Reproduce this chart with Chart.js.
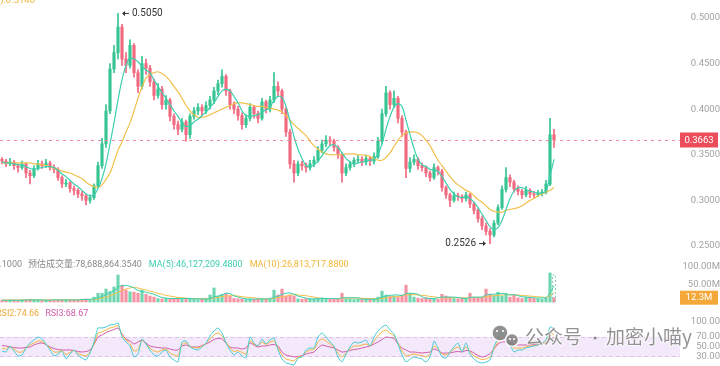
<!DOCTYPE html>
<html><head><meta charset="utf-8">
<script src="https://cdn.jsdelivr.net/npm/chart.js@4.4.1/dist/chart.umd.min.js"></script>
<style>
html,body{margin:0;padding:0;background:#fff;width:720px;height:366px;overflow:hidden;}
canvas{position:absolute;left:0;}
</style></head><body>
<canvas id="cPrice" width="720" height="258" style="top:0px"></canvas>
<canvas id="cVol" width="720" height="48" style="top:258px"></canvas>
<canvas id="cRsi" width="720" height="60" style="top:306px"></canvas>
<script>
// ---------- DATA ----------
const firstOpen = 0.345;
const closes = [
0.343,0.340,0.342,0.338,0.336,0.340,0.330,0.327,0.335,0.340,
0.338,0.341,0.336,0.334,0.325,0.318,0.319,0.313,0.311,0.307,
0.305,0.300,0.303,0.316,0.338,0.362,0.398,0.444,0.462,0.490,
0.455,0.448,0.470,0.440,0.425,0.450,0.445,0.430,0.415,0.422,
0.405,0.410,0.392,0.383,0.378,0.386,0.372,0.392,0.398,0.402,
0.398,0.404,0.410,0.420,0.428,0.436,0.420,0.405,0.400,0.393,
0.383,0.390,0.402,0.395,0.390,0.408,0.400,0.410,0.425,0.420,
0.400,0.375,0.340,0.330,0.340,0.338,0.336,0.340,0.344,0.355,
0.362,0.366,0.365,0.358,0.350,0.330,0.336,0.340,0.344,0.345,
0.342,0.346,0.343,0.348,0.365,0.395,0.418,0.405,0.412,0.390,
0.375,0.335,0.342,0.345,0.338,0.336,0.330,0.325,0.336,0.332,
0.314,0.306,0.300,0.305,0.304,0.302,0.306,0.296,0.289,0.280,
0.272,0.266,0.262,0.275,0.292,0.312,0.325,0.320,0.313,0.310,
0.306,0.311,0.307,0.306,0.308,0.309,0.318,0.372,0.3663];
const highs = [
.347,.345,.346,.344,.340,.343,.341,.333,.338,.344,
.343,.345,.343,.339,.336,.327,.323,.321,.316,.313,
.310,.307,.306,.318,.342,.368,.405,.450,.470,.505,
.493,.462,.476,.472,.443,.458,.455,.448,.433,.428,
.425,.415,.412,.395,.387,.390,.388,.395,.402,.406,
.405,.408,.414,.424,.432,.443,.438,.422,.408,.403,
.396,.394,.406,.404,.398,.412,.410,.414,.440,.430,
.422,.402,.378,.344,.343,.343,.341,.344,.348,.359,
.366,.371,.370,.367,.360,.352,.340,.343,.347,.349,
.348,.350,.348,.352,.369,.400,.425,.420,.420,.414,
.393,.377,.347,.350,.347,.341,.338,.332,.340,.338,
.334,.316,.308,.309,.308,.306,.309,.308,.298,.291,
.283,.275,.269,.278,.295,.316,.336,.328,.322,.316,
.312,.315,.313,.310,.311,.312,.322,.390,.378];
const lows = [
.340,.337,.338,.334,.331,.334,.325,.318,.325,.333,
.335,.336,.333,.330,.322,.314,.315,.309,.306,.303,
.300,.295,.297,.301,.314,.335,.358,.395,.440,.455,
.448,.440,.445,.435,.418,.422,.438,.425,.410,.412,
.400,.400,.387,.378,.372,.375,.365,.368,.389,.394,
.393,.395,.400,.406,.416,.424,.415,.400,.395,.388,
.378,.380,.387,.390,.385,.388,.396,.397,.407,.414,
.395,.370,.335,.320,.327,.333,.331,.333,.337,.342,
.352,.359,.360,.354,.346,.320,.327,.333,.337,.341,
.338,.339,.338,.340,.346,.362,.392,.400,.402,.385,
.370,.325,.331,.339,.334,.332,.326,.321,.323,.328,
.310,.302,.293,.298,.300,.298,.299,.292,.285,.276,
.268,.262,.2526,.260,.273,.290,.309,.315,.309,.306,
.302,.304,.303,.303,.304,.305,.307,.316,.358];
const maFast = [
.342,.341,.341,.340,.339,.339,.337,.335,.334,.335,
.336,.337,.337,.336,.333,.329,.326,.322,.318,.315,
.311,.307,.305,.306,.313,.324,.340,.362,.385,.410,
.432,.448,.456,.455,.452,.447,.443,.440,.432,.425,
.418,.412,.405,.398,.392,.385,.381,.382,.386,.389,
.393,.397,.402,.407,.414,.420,.422,.420,.414,.407,
.398,.393,.392,.393,.394,.397,.399,.402,.410,.414,
.413,.403,.387,.370,.356,.346,.338,.337,.339,.343,
.349,.355,.360,.361,.358,.352,.346,.342,.340,.341,
.342,.343,.344,.345,.351,.362,.378,.392,.402,.406,
.403,.388,.372,.357,.345,.339,.337,.334,.333,.332,
.326,.319,.312,.307,.304,.303,.304,.302,.298,.292,
.285,.278,.271,.268,.270,.278,.290,.302,.310,.314,
.314,.312,.310,.309,.308,.308,.310,.327,.345];
const maSlow = [
.341,.341,.341,.341,.341,.341,.341,.341,.340,.340,
.339,.338,.337,.335,.334,.332,.331,.330,.328,.326,
.324,.320,.317,.315,.314,.317,.323,.330,.342,.355,
.364,.375,.385,.398,.412,.424,.434,.438,.440,.441,
.439,.436,.431,.425,.419,.412,.404,.398,.394,.391,
.391,.392,.394,.396,.398,.400,.402,.404,.406,.407,
.407,.406,.405,.404,.403,.403,.402,.401,.400,.399,
.397,.393,.388,.383,.379,.375,.371,.365,.360,.356,
.353,.351,.350,.350,.350,.350,.351,.351,.351,.350,
.350,.349,.348,.346,.344,.344,.347,.352,.359,.366,
.371,.374,.375,.375,.374,.371,.366,.360,.352,.344,
.338,.332,.326,.321,.317,.314,.311,.309,.305,.301,
.298,.294,.290,.288,.287,.287,.289,.290,.291,.292,
.294,.297,.300,.302,.305,.307,.309,.311,.314];
const volumes = [ // millions
5,4,6,5,4,7,6,8,5,6,
4,5,6,5,7,6,5,6,7,6,
8,9,7,14,25,25,37,29,43,77,
48,34,29,28,25,34,22,17,14,10,
9,11,8,10,12,9,11,8,9,7,
8,10,20,40,16,22,25,16,10,9,
8,7,9,8,10,9,8,11,34,20,
37,17,20,17,9,8,10,9,8,11,
12,10,9,8,8,25,9,8,7,8,
9,7,8,9,14,31,20,17,17,14,
20,48,25,14,11,10,12,9,10,8,
22,17,14,10,9,10,8,25,12,11,
14,37,22,17,28,17,25,14,20,12,
10,14,14,10,9,8,11,83,12.3];
const volMa5 = [
5,5,5,5,5,5,6,6,6,6,6,5,5,6,6,6,6,6,6,6,7,7,8,
9,12,16,21,28,32,42,47,47,45,40,33,30,28,25,22,
17,13,11,10,10,10,10,10,10,9,9,9,8,
10,15,17,20,25,24,
18,14,11,9,8,8,9,9,9,9,
14,16,22,25,26,22,
17,14,11,9,9,9,10,10,10,10,9,
12,12,12,12,12,8,8,8,8,
10,14,17,19,20,20,18,24,25,24,
22,15,11,10,10,12,14,14,14,14,13,11,10,
13,14,14,14,20,22,22,24,24,22,20,21,
18,15,14,13,12,11,12,12,27,46];
const volMa10 = [
6,6,6,6,6,6,6,6,6,6,6,6,6,6,6,6,6,6,6,6,6,7,7,
8,9,11,14,18,22,28,33,37,40,42,40,37,34,31,28,
25,22,19,17,15,13,12,11,10,10,10,10,9,
10,12,13,15,17,18,
18,17,15,14,13,12,10,9,9,9,
11,13,15,17,19,21,
20,19,18,16,14,12,10,10,10,10,10,
10,11,11,11,11,11,10,10,9,
9,10,12,13,15,16,18,20,21,21,
20,19,18,16,15,13,12,12,12,12,13,12,12,
12,13,13,13,15,17,18,19,20,21,21,21,
20,19,18,17,16,15,14,13,18,27];
const rsi1 = [
42,40,52,42,32,34,48,58,64,70,
66,56,44,32,36,42,26,36,44,34,
28,24,38,60,88,88,90,94,95,98,
70,60,52,30,36,66,56,44,34,32,
40,44,30,24,20,60,62,50,46,44,
50,58,72,82,88,78,58,44,34,40,
32,28,70,58,52,66,56,64,68,44,
26,18,16,14,28,30,44,48,48,70,
78,70,60,52,30,20,36,50,60,58,
60,64,52,70,82,90,94,84,76,56,
34,20,26,30,28,26,20,30,62,48,
30,28,40,50,58,40,58,36,26,20,
18,20,24,50,68,80,62,54,40,44,
44,48,50,52,54,58,64,90,88];
const rsi2 = [
48,46,51,46,40,40,48,54,58,62,
61,56,48,40,40,43,35,39,43,37,
34,32,40,56,78,80,84,88,90,93,
74,64,57,42,45,64,56,48,42,40,
44,46,38,34,32,55,58,52,49,48,
52,57,66,74,78,72,60,48,41,43,
39,36,62,56,52,60,55,60,62,48,
34,26,24,22,30,32,40,44,45,60,
66,62,56,50,38,30,38,46,52,52,
54,56,52,62,72,80,84,78,72,58,
42,32,34,36,34,33,30,36,52,46,
36,34,40,46,50,42,50,40,32,28,
25,26,30,46,60,70,62,56,48,48,
48,50,52,53,55,57,60,78,74.66];
const rsi3 = [
53,52,50,49,48,48,49,50,54,57,
58,55,50,47,45,44,44,44,43,41,
40,41,44,55,70,74,79,82,85,88,
76,66,62,56,60,64,58,52,50,49,
48,48,46,44,44,52,54,51,50,50,
53,56,60,65,67,66,58,50,48,48,
46,48,58,54,50,52,52,54,55,52,
40,34,32,30,31,33,36,38,40,48,
54,52,50,48,44,40,41,43,45,46,
48,50,52,56,60,65,70,69,67,56,
48,44,40,40,39,38,39,40,46,43,
38,38,38,40,41,40,43,42,38,33,
30,32,37,46,56,60,60,58,55,54,
54,54,54,55,56,57,58,65,68.67];
const priceTicks = [0.25,0.30,0.35,0.40,0.45,0.50];
const volTicks = [50,100];
const rsiTicks = [30,50,70,100];
const lastPrice = 0.3663;
const currentVol = 12.3;
const estVolume = 78.6888643540;
const maxMark = {index:29, value:0.5050};
const minMark = {index:122, value:0.2526};
const legendVol = {cut:'VOL:12,316,490.1000', est:'预估成交量:78,688,864.3540', ma5:'MA(5):46,127,209.4800', ma10:'MA(10):26,813,717.8800'};
const legendRsi = {r1:'RSI1:88.21', r2:'RSI2:74.66', r3:'RSI3:68.67'};

// ---------- BUILD ----------
const UP='#36c592', DOWN='#f2697f';
const UPV='rgba(54,197,146,0.72)', DOWNV='rgba(242,105,127,0.72)';
const opens = closes.map((c,i)=> i===0 ? firstOpen : closes[i-1]);
const isUp = closes.map((c,i)=> c >= opens[i]);
const cColor = isUp.map(u=> u?UP:DOWN);
const vColor = isUp.map(u=> u?UPV:DOWNV);
const pts = arr => arr.map((v,i)=>({x:i,y:v}));
const FAM = 'Roboto, "Noto Sans CJK SC", sans-serif';
Chart.defaults.font.family = FAM;
Chart.defaults.animation = false;

function measureW(labels){
  const c=document.createElement('canvas').getContext('2d');
  c.font='9.5px '+FAM;
  return Math.max(...labels.map(t=>c.measureText(t).width));
}
function yAxis(min,max,ticks,fmt){
  const labels = ticks.map(fmt);
  const pad = 97 - measureW(labels);
  return {
    position:'right', min, max,
    grid:{display:false, drawTicks:false}, border:{display:false},
    afterFit(s){ s.width=100; s.paddingTop=0; s.paddingBottom=0; },
    afterBuildTicks(s){ s.ticks = ticks.map(v=>({value:v})); },
    ticks:{color:'#a3a3a3', font:{size:9.5}, padding:pad, crossAlign:'far', autoSkip:false, callback:v=>fmt(v)}
  };
}
const xAxis = {type:'linear', min:-0.5, max:154.5, display:false, offset:false, grid:{offset:false}};
const baseOpts = (y)=>({
  responsive:false, animation:false, devicePixelRatio:1, events:[],
  layout:{padding:0},
  plugins:{legend:{display:false}, tooltip:{enabled:false}},
  scales:{x:xAxis, y:y}
});

// price decorations
const priceDecor = {
  id:'priceDecor',
  afterDraw(chart){
    const {ctx} = chart; const xs=chart.scales.x, ys=chart.scales.y;
    ctx.save();
    const py = Math.round(ys.getPixelForValue(lastPrice))+0.5;
    ctx.strokeStyle='#ef8a96'; ctx.lineWidth=1; ctx.setLineDash([3,4]);
    ctx.beginPath(); ctx.moveTo(0,py); ctx.lineTo(680,py); ctx.stroke();
    ctx.setLineDash([]);
    ctx.fillStyle='#ec4d5c'; ctx.fillRect(680,py-8,38,15);
    ctx.fillStyle='#fff'; ctx.font='9.5px '+FAM; ctx.textAlign='center'; ctx.textBaseline='middle';
    ctx.fillText(lastPrice.toFixed(4),699,py);
    // max mark
    ctx.strokeStyle='#333'; ctx.fillStyle='#333'; ctx.lineWidth=1;
    let x=xs.getPixelForValue(maxMark.index)+3, y=ys.getPixelForValue(maxMark.value);
    ctx.beginPath(); ctx.moveTo(x+2,y); ctx.lineTo(x+8,y); ctx.stroke();
    ctx.beginPath(); ctx.moveTo(x+1,y); ctx.lineTo(x+4,y-2.5); ctx.lineTo(x+4,y+2.5); ctx.closePath(); ctx.fill();
    ctx.font='10px '+FAM; ctx.textAlign='left'; ctx.fillStyle='#333';
    ctx.fillText(maxMark.value.toFixed(4), x+11, y);
    // min mark
    x=xs.getPixelForValue(minMark.index)-3; y=ys.getPixelForValue(minMark.value);
    ctx.beginPath(); ctx.moveTo(x-8,y); ctx.lineTo(x-2,y); ctx.stroke();
    ctx.beginPath(); ctx.moveTo(x-1,y); ctx.lineTo(x-4,y-2.5); ctx.lineTo(x-4,y+2.5); ctx.closePath(); ctx.fill();
    ctx.textAlign='right';
    ctx.fillText(minMark.value.toFixed(4), x-11, y);
    // cut-off top legend
    ctx.fillStyle='#f2b538'; ctx.font='9.5px '+FAM; ctx.textAlign='right'; ctx.textBaseline='alphabetic';
    ctx.fillText('MA(30):0.3140', 35, 3);
    ctx.restore();
  }
};

new Chart(document.getElementById('cPrice'), {
  data:{datasets:[
    {type:'line', data:pts(maFast), borderColor:'#3ccfae', borderWidth:1.2, pointRadius:0, tension:0.3, order:0},
    {type:'line', data:pts(maSlow), borderColor:'#f2c04c', borderWidth:1.2, pointRadius:0, tension:0.3, order:0},
    {type:'bar', data:closes.map((c,i)=>({x:i,y:[Math.min(lows[i],opens[i],c),Math.max(highs[i],opens[i],c)]})),
      backgroundColor:cColor, barThickness:1, grouped:false, order:2},
    {type:'bar', data:closes.map((c,i)=>({x:i,y:[opens[i],c]})),
      backgroundColor:cColor, barThickness:2.5, minBarLength:1, grouped:false, order:1}
  ]},
  options:baseOpts(yAxis(0.2368,0.5197,priceTicks,v=>Number(v).toFixed(4))),
  plugins:[priceDecor]
});

// volume
const volDecor = {
  id:'volDecor',
  afterDraw(chart){
    const {ctx}=chart; const xs=chart.scales.x, ys=chart.scales.y;
    ctx.save();
    const last=closes.length-1;
    const x=xs.getPixelForValue(last), y0=ys.getPixelForValue(0), y1=ys.getPixelForValue(estVolume);
    ctx.strokeStyle='#8fcfb9'; ctx.setLineDash([2,2]); ctx.lineWidth=1;
    ctx.strokeRect(x-1.5,y1+0.5,3,y0-y1-0.5);
    ctx.setLineDash([]);
    const ty=ys.getPixelForValue(currentVol);
    ctx.fillStyle='#f5a83a'; ctx.fillRect(680,ty-7,38,14);
    ctx.fillStyle='#fff'; ctx.font='9.5px '+FAM; ctx.textAlign='center'; ctx.textBaseline='middle';
    ctx.fillText(currentVol.toFixed(1)+'M',699,ty);
    ctx.font='9px '+FAM; ctx.textBaseline='middle';
    ctx.textAlign='right'; ctx.fillStyle='#8a8a8a'; ctx.fillText(legendVol.cut,22,7);
    ctx.textAlign='left';
    let lx=28;
    [[legendVol.est,'#8a8a8a'],[legendVol.ma5,'#3ccfae'],[legendVol.ma10,'#f2b538']].forEach(([t,c])=>{
      ctx.fillStyle=c; ctx.fillText(t,lx,7); lx+=ctx.measureText(t).width+7;
    });
    ctx.restore();
  }
};
new Chart(document.getElementById('cVol'), {
  data:{datasets:[
    {type:'line', data:pts(volMa5), borderColor:'#3ccfae', borderWidth:1, pointRadius:0, tension:0.3, order:0},
    {type:'line', data:pts(volMa10), borderColor:'#f2c04c', borderWidth:1, pointRadius:0, tension:0.3, order:0},
    {type:'bar', data:pts(volumes), backgroundColor:vColor, barThickness:2.5, grouped:false, order:1}
  ]},
  options:baseOpts(yAxis(-11.4,125.7,volTicks,v=>Number(v).toFixed(2)+'M')),
  plugins:[volDecor]
});

// RSI
const rsiDecor = {
  id:'rsiDecor',
  beforeDatasetsDraw(chart){
    const {ctx}=chart; const ys=chart.scales.y;
    const a=ys.getPixelForValue(70), b=ys.getPixelForValue(30);
    ctx.save();
    ctx.fillStyle='rgba(214,182,240,0.30)'; ctx.fillRect(0,a,680,b-a);
    ctx.strokeStyle='#dcc3ea'; ctx.setLineDash([4,3]); ctx.lineWidth=1;
    ctx.beginPath(); ctx.moveTo(0,Math.round(a)+0.5); ctx.lineTo(680,Math.round(a)+0.5);
    ctx.moveTo(0,Math.round(b)-0.5); ctx.lineTo(680,Math.round(b)-0.5); ctx.stroke();
    ctx.restore();
  },
  afterDraw(chart){
    const {ctx}=chart;
    ctx.save();
    ctx.font='9px '+FAM; ctx.textBaseline='middle'; ctx.textAlign='right';
    ctx.fillStyle='#3ec9d0'; ctx.fillText(legendRsi.r1,-8,8);
    ctx.textAlign='left';
    let lx=-4;
    [[legendRsi.r2,'#f2a93a'],[legendRsi.r3,'#d35aa8']].forEach(([t,c])=>{
      ctx.fillStyle=c; ctx.fillText(t,lx,8); lx+=ctx.measureText(t).width+6;
    });
    // watermark
    ctx.lineWidth=1.5; ctx.strokeStyle='rgba(255,255,255,0.9)'; ctx.fillStyle='rgba(125,125,125,0.85)';
    ctx.beginPath(); ctx.arc(500,27,8,0,Math.PI*2); ctx.fill(); ctx.stroke();
    ctx.beginPath(); ctx.arc(512,34,6.5,0,Math.PI*2); ctx.fill(); ctx.stroke();
    ctx.fillStyle='#fff';
    [[497,25],[503,25],[510,33],[514,33]].forEach(([cx,cy])=>{ctx.beginPath();ctx.arc(cx,cy,1.1,0,Math.PI*2);ctx.fill();});
    ctx.font='19px "Noto Sans CJK SC"'; ctx.textBaseline='middle';
    ctx.lineWidth=2; ctx.strokeStyle='rgba(255,255,255,0.8)'; ctx.fillStyle='rgba(120,120,120,0.8)';
    ctx.textAlign='left';
    [['公众号',525],['加密小喵y',606]].forEach(([t,x])=>{ctx.strokeText(t,x,31);ctx.fillText(t,x,31);});
    ctx.beginPath(); ctx.arc(595,32,1.6,0,Math.PI*2); ctx.fill();
    ctx.restore();
  }
};
new Chart(document.getElementById('cRsi'), {
  data:{datasets:[
    {type:'line', data:pts(rsi1), borderColor:'#45cbd6', borderWidth:1, pointRadius:0, tension:0.2},
    {type:'line', data:pts(rsi2), borderColor:'#f3b43e', borderWidth:1, pointRadius:0, tension:0.2},
    {type:'line', data:pts(rsi3), borderColor:'#d35aa8', borderWidth:1, pointRadius:0, tension:0.2}
  ]},
  options:baseOpts(yAxis(12,132,rsiTicks,v=>Number(v).toFixed(2))),
  plugins:[rsiDecor]
});
</script>
</body></html>
